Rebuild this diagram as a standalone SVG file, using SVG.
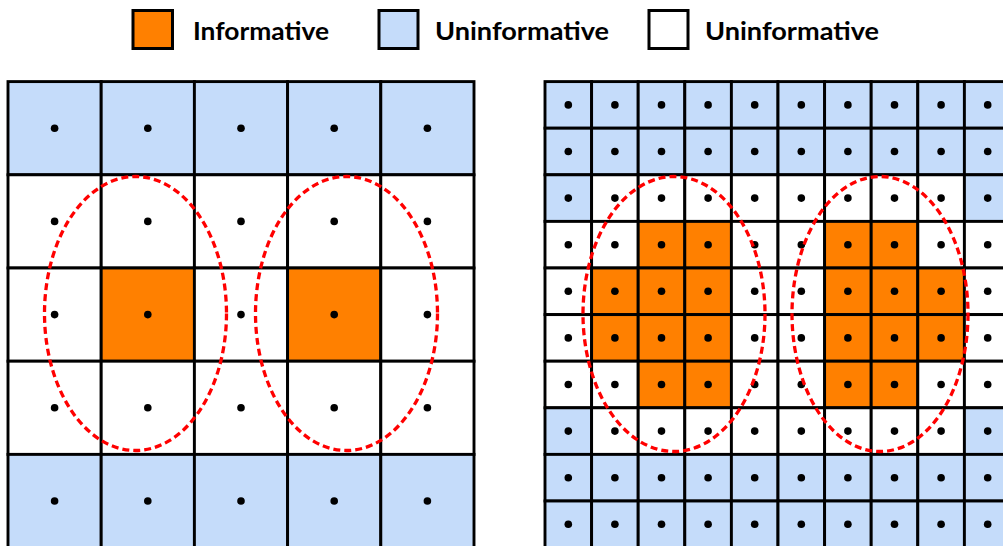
<svg xmlns="http://www.w3.org/2000/svg" width="1003" height="546" viewBox="0 0 1003 546">
<style>
.b{fill:#c5dcfa;stroke:#000;stroke-width:2.9}
.w{fill:#fff;stroke:#000;stroke-width:2.9}
.o{fill:#ff8000;stroke:#000;stroke-width:2.9}
.d{fill:#000}
.e{fill:none;stroke:#ff0000;stroke-width:3.3;stroke-dasharray:7 4}
.lg{fill:#000;font-family:Lato,"Open Sans","Liberation Sans",sans-serif;font-weight:bold;font-size:25px}
.lb{stroke:#000;stroke-width:3}
</style>
<rect width="1003" height="546" fill="#fff"/>
<g id="legend">
<g id="legend-informative"><rect class="lb" x="133" y="10.5" width="39.5" height="38" fill="#ff8000"/><text class="lg" x="193" y="39.5" textLength="136" lengthAdjust="spacingAndGlyphs">Informative</text></g>
<g id="legend-blue"><rect class="lb" x="379" y="10.5" width="39" height="38" fill="#c5dcfa"/><text class="lg" x="435" y="39.5" textLength="174" lengthAdjust="spacingAndGlyphs">Uninformative</text></g>
<g id="legend-white"><rect class="lb" x="649" y="10.5" width="39" height="38" fill="#fff"/><text class="lg" x="705" y="39.5" textLength="174" lengthAdjust="spacingAndGlyphs">Uninformative</text></g>
</g>
<g id="left-grid">
<rect class="b" x="8" y="81.6" width="93.2" height="93.2"/><rect class="b" x="101.2" y="81.6" width="93.2" height="93.2"/><rect class="b" x="194.4" y="81.6" width="93.2" height="93.2"/><rect class="b" x="287.6" y="81.6" width="93.2" height="93.2"/><rect class="b" x="380.8" y="81.6" width="93.2" height="93.2"/>
<rect class="w" x="8" y="174.8" width="93.2" height="93.2"/><rect class="w" x="101.2" y="174.8" width="93.2" height="93.2"/><rect class="w" x="194.4" y="174.8" width="93.2" height="93.2"/><rect class="w" x="287.6" y="174.8" width="93.2" height="93.2"/><rect class="w" x="380.8" y="174.8" width="93.2" height="93.2"/>
<rect class="w" x="8" y="268" width="93.2" height="93.2"/><rect class="o" x="101.2" y="268" width="93.2" height="93.2"/><rect class="w" x="194.4" y="268" width="93.2" height="93.2"/><rect class="o" x="287.6" y="268" width="93.2" height="93.2"/><rect class="w" x="380.8" y="268" width="93.2" height="93.2"/>
<rect class="w" x="8" y="361.2" width="93.2" height="93.2"/><rect class="w" x="101.2" y="361.2" width="93.2" height="93.2"/><rect class="w" x="194.4" y="361.2" width="93.2" height="93.2"/><rect class="w" x="287.6" y="361.2" width="93.2" height="93.2"/><rect class="w" x="380.8" y="361.2" width="93.2" height="93.2"/>
<rect class="b" x="8" y="454.4" width="93.2" height="93.2"/><rect class="b" x="101.2" y="454.4" width="93.2" height="93.2"/><rect class="b" x="194.4" y="454.4" width="93.2" height="93.2"/><rect class="b" x="287.6" y="454.4" width="93.2" height="93.2"/><rect class="b" x="380.8" y="454.4" width="93.2" height="93.2"/>
<g class="d">
<circle cx="54.6" cy="128.2" r="3.8"/><circle cx="147.8" cy="128.2" r="3.8"/><circle cx="241" cy="128.2" r="3.8"/><circle cx="334.2" cy="128.2" r="3.8"/><circle cx="427.4" cy="128.2" r="3.8"/>
<circle cx="54.6" cy="221.4" r="3.8"/><circle cx="147.8" cy="221.4" r="3.8"/><circle cx="241" cy="221.4" r="3.8"/><circle cx="334.2" cy="221.4" r="3.8"/><circle cx="427.4" cy="221.4" r="3.8"/>
<circle cx="54.6" cy="314.6" r="3.8"/><circle cx="147.8" cy="314.6" r="3.8"/><circle cx="241" cy="314.6" r="3.8"/><circle cx="334.2" cy="314.6" r="3.8"/><circle cx="427.4" cy="314.6" r="3.8"/>
<circle cx="54.6" cy="407.8" r="3.8"/><circle cx="147.8" cy="407.8" r="3.8"/><circle cx="241" cy="407.8" r="3.8"/><circle cx="334.2" cy="407.8" r="3.8"/><circle cx="427.4" cy="407.8" r="3.8"/>
<circle cx="54.6" cy="501" r="3.8"/><circle cx="147.8" cy="501" r="3.8"/><circle cx="241" cy="501" r="3.8"/><circle cx="334.2" cy="501" r="3.8"/><circle cx="427.4" cy="501" r="3.8"/>
</g>
</g>
<g id="right-grid">
<g id="r0"><rect class="b" x="545" y="81.6" width="46.6" height="46.6"/><rect class="b" x="591.6" y="81.6" width="46.6" height="46.6"/><rect class="b" x="638.2" y="81.6" width="46.6" height="46.6"/><rect class="b" x="684.8" y="81.6" width="46.6" height="46.6"/><rect class="b" x="731.4" y="81.6" width="46.6" height="46.6"/><rect class="b" x="778" y="81.6" width="46.6" height="46.6"/><rect class="b" x="824.6" y="81.6" width="46.6" height="46.6"/><rect class="b" x="871.2" y="81.6" width="46.6" height="46.6"/><rect class="b" x="917.8" y="81.6" width="46.6" height="46.6"/><rect class="b" x="964.4" y="81.6" width="46.6" height="46.6"/></g>
<g id="r1"><rect class="b" x="545" y="128.2" width="46.6" height="46.6"/><rect class="b" x="591.6" y="128.2" width="46.6" height="46.6"/><rect class="b" x="638.2" y="128.2" width="46.6" height="46.6"/><rect class="b" x="684.8" y="128.2" width="46.6" height="46.6"/><rect class="b" x="731.4" y="128.2" width="46.6" height="46.6"/><rect class="b" x="778" y="128.2" width="46.6" height="46.6"/><rect class="b" x="824.6" y="128.2" width="46.6" height="46.6"/><rect class="b" x="871.2" y="128.2" width="46.6" height="46.6"/><rect class="b" x="917.8" y="128.2" width="46.6" height="46.6"/><rect class="b" x="964.4" y="128.2" width="46.6" height="46.6"/></g>
<g id="r2"><rect class="b" x="545" y="174.8" width="46.6" height="46.6"/><rect class="w" x="591.6" y="174.8" width="46.6" height="46.6"/><rect class="w" x="638.2" y="174.8" width="46.6" height="46.6"/><rect class="w" x="684.8" y="174.8" width="46.6" height="46.6"/><rect class="w" x="731.4" y="174.8" width="46.6" height="46.6"/><rect class="w" x="778" y="174.8" width="46.6" height="46.6"/><rect class="w" x="824.6" y="174.8" width="46.6" height="46.6"/><rect class="w" x="871.2" y="174.8" width="46.6" height="46.6"/><rect class="w" x="917.8" y="174.8" width="46.6" height="46.6"/><rect class="b" x="964.4" y="174.8" width="46.6" height="46.6"/></g>
<g id="r3"><rect class="w" x="545" y="221.4" width="46.6" height="46.6"/><rect class="w" x="591.6" y="221.4" width="46.6" height="46.6"/><rect class="o" x="638.2" y="221.4" width="46.6" height="46.6"/><rect class="o" x="684.8" y="221.4" width="46.6" height="46.6"/><rect class="w" x="731.4" y="221.4" width="46.6" height="46.6"/><rect class="w" x="778" y="221.4" width="46.6" height="46.6"/><rect class="o" x="824.6" y="221.4" width="46.6" height="46.6"/><rect class="o" x="871.2" y="221.4" width="46.6" height="46.6"/><rect class="w" x="917.8" y="221.4" width="46.6" height="46.6"/><rect class="w" x="964.4" y="221.4" width="46.6" height="46.6"/></g>
<g id="r4"><rect class="w" x="545" y="268" width="46.6" height="46.6"/><rect class="o" x="591.6" y="268" width="46.6" height="46.6"/><rect class="o" x="638.2" y="268" width="46.6" height="46.6"/><rect class="o" x="684.8" y="268" width="46.6" height="46.6"/><rect class="w" x="731.4" y="268" width="46.6" height="46.6"/><rect class="w" x="778" y="268" width="46.6" height="46.6"/><rect class="o" x="824.6" y="268" width="46.6" height="46.6"/><rect class="o" x="871.2" y="268" width="46.6" height="46.6"/><rect class="o" x="917.8" y="268" width="46.6" height="46.6"/><rect class="w" x="964.4" y="268" width="46.6" height="46.6"/></g>
<g id="r5"><rect class="w" x="545" y="314.6" width="46.6" height="46.6"/><rect class="o" x="591.6" y="314.6" width="46.6" height="46.6"/><rect class="o" x="638.2" y="314.6" width="46.6" height="46.6"/><rect class="o" x="684.8" y="314.6" width="46.6" height="46.6"/><rect class="w" x="731.4" y="314.6" width="46.6" height="46.6"/><rect class="w" x="778" y="314.6" width="46.6" height="46.6"/><rect class="o" x="824.6" y="314.6" width="46.6" height="46.6"/><rect class="o" x="871.2" y="314.6" width="46.6" height="46.6"/><rect class="o" x="917.8" y="314.6" width="46.6" height="46.6"/><rect class="w" x="964.4" y="314.6" width="46.6" height="46.6"/></g>
<g id="r6"><rect class="w" x="545" y="361.2" width="46.6" height="46.6"/><rect class="w" x="591.6" y="361.2" width="46.6" height="46.6"/><rect class="o" x="638.2" y="361.2" width="46.6" height="46.6"/><rect class="o" x="684.8" y="361.2" width="46.6" height="46.6"/><rect class="w" x="731.4" y="361.2" width="46.6" height="46.6"/><rect class="w" x="778" y="361.2" width="46.6" height="46.6"/><rect class="o" x="824.6" y="361.2" width="46.6" height="46.6"/><rect class="o" x="871.2" y="361.2" width="46.6" height="46.6"/><rect class="w" x="917.8" y="361.2" width="46.6" height="46.6"/><rect class="w" x="964.4" y="361.2" width="46.6" height="46.6"/></g>
<g id="r7"><rect class="b" x="545" y="407.8" width="46.6" height="46.6"/><rect class="w" x="591.6" y="407.8" width="46.6" height="46.6"/><rect class="w" x="638.2" y="407.8" width="46.6" height="46.6"/><rect class="w" x="684.8" y="407.8" width="46.6" height="46.6"/><rect class="w" x="731.4" y="407.8" width="46.6" height="46.6"/><rect class="w" x="778" y="407.8" width="46.6" height="46.6"/><rect class="w" x="824.6" y="407.8" width="46.6" height="46.6"/><rect class="w" x="871.2" y="407.8" width="46.6" height="46.6"/><rect class="w" x="917.8" y="407.8" width="46.6" height="46.6"/><rect class="b" x="964.4" y="407.8" width="46.6" height="46.6"/></g>
<g id="r8"><rect class="b" x="545" y="454.4" width="46.6" height="46.6"/><rect class="b" x="591.6" y="454.4" width="46.6" height="46.6"/><rect class="b" x="638.2" y="454.4" width="46.6" height="46.6"/><rect class="b" x="684.8" y="454.4" width="46.6" height="46.6"/><rect class="b" x="731.4" y="454.4" width="46.6" height="46.6"/><rect class="b" x="778" y="454.4" width="46.6" height="46.6"/><rect class="b" x="824.6" y="454.4" width="46.6" height="46.6"/><rect class="b" x="871.2" y="454.4" width="46.6" height="46.6"/><rect class="b" x="917.8" y="454.4" width="46.6" height="46.6"/><rect class="b" x="964.4" y="454.4" width="46.6" height="46.6"/></g>
<g id="r9"><rect class="b" x="545" y="501" width="46.6" height="46.6"/><rect class="b" x="591.6" y="501" width="46.6" height="46.6"/><rect class="b" x="638.2" y="501" width="46.6" height="46.6"/><rect class="b" x="684.8" y="501" width="46.6" height="46.6"/><rect class="b" x="731.4" y="501" width="46.6" height="46.6"/><rect class="b" x="778" y="501" width="46.6" height="46.6"/><rect class="b" x="824.6" y="501" width="46.6" height="46.6"/><rect class="b" x="871.2" y="501" width="46.6" height="46.6"/><rect class="b" x="917.8" y="501" width="46.6" height="46.6"/><rect class="b" x="964.4" y="501" width="46.6" height="46.6"/></g>
<g class="d">
<circle cx="568.3" cy="104.9" r="3.8"/><circle cx="614.9" cy="104.9" r="3.8"/><circle cx="661.5" cy="104.9" r="3.8"/><circle cx="708.1" cy="104.9" r="3.8"/><circle cx="754.7" cy="104.9" r="3.8"/><circle cx="801.3" cy="104.9" r="3.8"/><circle cx="847.9" cy="104.9" r="3.8"/><circle cx="894.5" cy="104.9" r="3.8"/><circle cx="941.1" cy="104.9" r="3.8"/><circle cx="987.7" cy="104.9" r="3.8"/>
<circle cx="568.3" cy="151.5" r="3.8"/><circle cx="614.9" cy="151.5" r="3.8"/><circle cx="661.5" cy="151.5" r="3.8"/><circle cx="708.1" cy="151.5" r="3.8"/><circle cx="754.7" cy="151.5" r="3.8"/><circle cx="801.3" cy="151.5" r="3.8"/><circle cx="847.9" cy="151.5" r="3.8"/><circle cx="894.5" cy="151.5" r="3.8"/><circle cx="941.1" cy="151.5" r="3.8"/><circle cx="987.7" cy="151.5" r="3.8"/>
<circle cx="568.3" cy="198.1" r="3.8"/><circle cx="614.9" cy="198.1" r="3.8"/><circle cx="661.5" cy="198.1" r="3.8"/><circle cx="708.1" cy="198.1" r="3.8"/><circle cx="754.7" cy="198.1" r="3.8"/><circle cx="801.3" cy="198.1" r="3.8"/><circle cx="847.9" cy="198.1" r="3.8"/><circle cx="894.5" cy="198.1" r="3.8"/><circle cx="941.1" cy="198.1" r="3.8"/><circle cx="987.7" cy="198.1" r="3.8"/>
<circle cx="568.3" cy="244.7" r="3.8"/><circle cx="614.9" cy="244.7" r="3.8"/><circle cx="661.5" cy="244.7" r="3.8"/><circle cx="708.1" cy="244.7" r="3.8"/><circle cx="754.7" cy="244.7" r="3.8"/><circle cx="801.3" cy="244.7" r="3.8"/><circle cx="847.9" cy="244.7" r="3.8"/><circle cx="894.5" cy="244.7" r="3.8"/><circle cx="941.1" cy="244.7" r="3.8"/><circle cx="987.7" cy="244.7" r="3.8"/>
<circle cx="568.3" cy="291.3" r="3.8"/><circle cx="614.9" cy="291.3" r="3.8"/><circle cx="661.5" cy="291.3" r="3.8"/><circle cx="708.1" cy="291.3" r="3.8"/><circle cx="754.7" cy="291.3" r="3.8"/><circle cx="801.3" cy="291.3" r="3.8"/><circle cx="847.9" cy="291.3" r="3.8"/><circle cx="894.5" cy="291.3" r="3.8"/><circle cx="941.1" cy="291.3" r="3.8"/><circle cx="987.7" cy="291.3" r="3.8"/>
<circle cx="568.3" cy="337.9" r="3.8"/><circle cx="614.9" cy="337.9" r="3.8"/><circle cx="661.5" cy="337.9" r="3.8"/><circle cx="708.1" cy="337.9" r="3.8"/><circle cx="754.7" cy="337.9" r="3.8"/><circle cx="801.3" cy="337.9" r="3.8"/><circle cx="847.9" cy="337.9" r="3.8"/><circle cx="894.5" cy="337.9" r="3.8"/><circle cx="941.1" cy="337.9" r="3.8"/><circle cx="987.7" cy="337.9" r="3.8"/>
<circle cx="568.3" cy="384.5" r="3.8"/><circle cx="614.9" cy="384.5" r="3.8"/><circle cx="661.5" cy="384.5" r="3.8"/><circle cx="708.1" cy="384.5" r="3.8"/><circle cx="754.7" cy="384.5" r="3.8"/><circle cx="801.3" cy="384.5" r="3.8"/><circle cx="847.9" cy="384.5" r="3.8"/><circle cx="894.5" cy="384.5" r="3.8"/><circle cx="941.1" cy="384.5" r="3.8"/><circle cx="987.7" cy="384.5" r="3.8"/>
<circle cx="568.3" cy="431.1" r="3.8"/><circle cx="614.9" cy="431.1" r="3.8"/><circle cx="661.5" cy="431.1" r="3.8"/><circle cx="708.1" cy="431.1" r="3.8"/><circle cx="754.7" cy="431.1" r="3.8"/><circle cx="801.3" cy="431.1" r="3.8"/><circle cx="847.9" cy="431.1" r="3.8"/><circle cx="894.5" cy="431.1" r="3.8"/><circle cx="941.1" cy="431.1" r="3.8"/><circle cx="987.7" cy="431.1" r="3.8"/>
<circle cx="568.3" cy="477.7" r="3.8"/><circle cx="614.9" cy="477.7" r="3.8"/><circle cx="661.5" cy="477.7" r="3.8"/><circle cx="708.1" cy="477.7" r="3.8"/><circle cx="754.7" cy="477.7" r="3.8"/><circle cx="801.3" cy="477.7" r="3.8"/><circle cx="847.9" cy="477.7" r="3.8"/><circle cx="894.5" cy="477.7" r="3.8"/><circle cx="941.1" cy="477.7" r="3.8"/><circle cx="987.7" cy="477.7" r="3.8"/>
<circle cx="568.3" cy="524.3" r="3.8"/><circle cx="614.9" cy="524.3" r="3.8"/><circle cx="661.5" cy="524.3" r="3.8"/><circle cx="708.1" cy="524.3" r="3.8"/><circle cx="754.7" cy="524.3" r="3.8"/><circle cx="801.3" cy="524.3" r="3.8"/><circle cx="847.9" cy="524.3" r="3.8"/><circle cx="894.5" cy="524.3" r="3.8"/><circle cx="941.1" cy="524.3" r="3.8"/><circle cx="987.7" cy="524.3" r="3.8"/>
</g>
</g>
<g id="regions">
<ellipse class="e" cx="135.5" cy="313.5" rx="91" ry="137"/>
<ellipse class="e" cx="346.5" cy="313.5" rx="91" ry="137"/>
<ellipse class="e" cx="674" cy="314" rx="91" ry="137.5"/>
<ellipse class="e" cx="880" cy="314" rx="88" ry="137.5"/>
</g>
</svg>
